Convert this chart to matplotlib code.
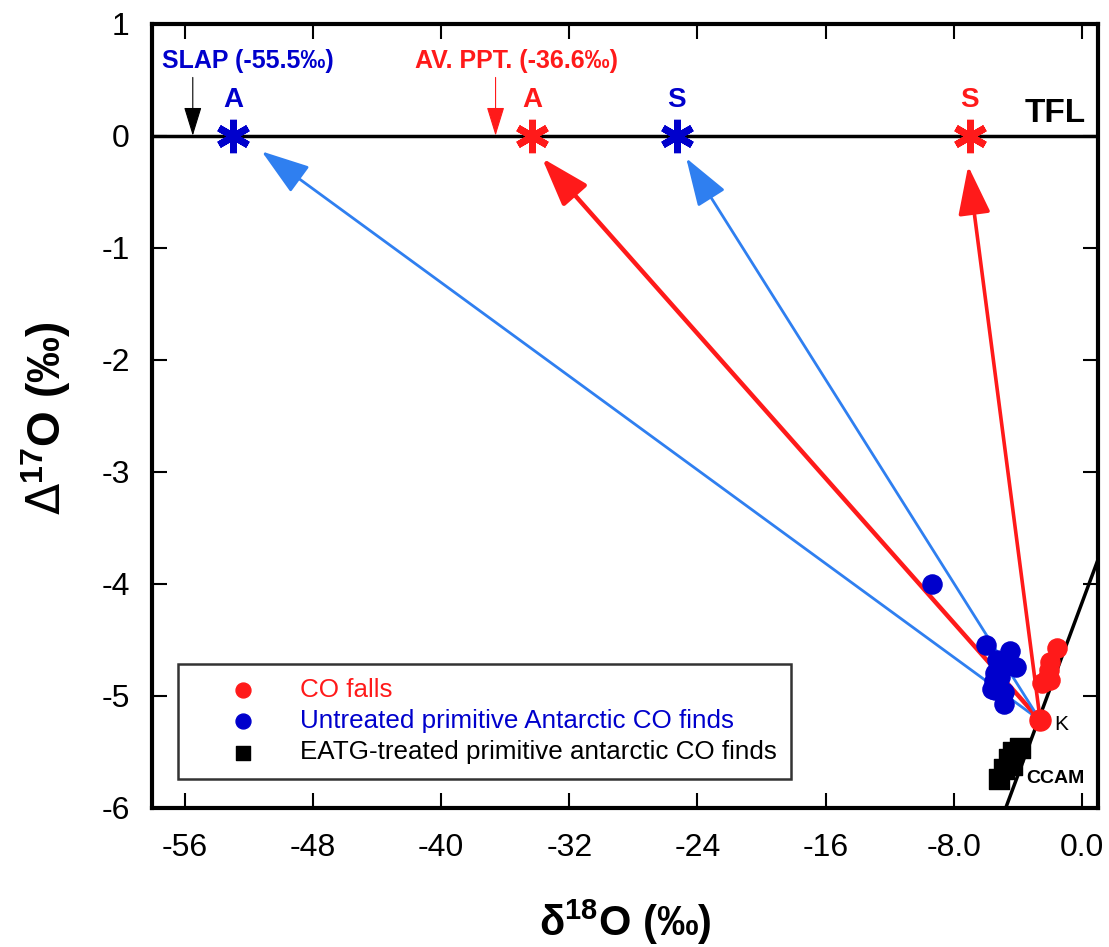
import matplotlib
matplotlib.use("Agg")
import matplotlib.pyplot as plt

plt.rcParams['font.family'] = ['Liberation Sans', 'DejaVu Sans']

# CO falls (red circles)
falls_x = [-1.57, -1.99, -2.03, -2.19, -2.50, -1.99]
falls_y = [-4.57, -4.70, -4.77, -4.85, -4.89, -4.86]

# Kainsaz (K)
k_x, k_y = -2.6, -5.22

# untreated primitive Antarctic CO finds (blue circles)
finds_x = [-9.34, -5.96, -4.47, -5.30, -4.10, -4.89, -5.40, -5.09, -5.51, -5.40, -4.89, -4.84, -5.61]
finds_y = [-4.00, -4.55, -4.60, -4.68, -4.74, -4.74, -4.80, -4.83, -4.87, -4.95, -4.97, -5.07, -4.94]

# EATG-treated finds (black squares)
eatg_x = [-3.85, -4.27, -4.58, -4.37, -4.89, -5.20]
eatg_y = [-5.47, -5.50, -5.56, -5.62, -5.65, -5.74]

# end members on TFL and arrow tips
end_labels = ['A', 'A', 'S', 'S']
end_x = [-53.0, -34.3, -25.3, -7.0]
end_colors = ['#0000cc', '#ff1a1a', '#0000cc', '#ff1a1a']
tip_x = [-51.2, -33.7, -24.7, -7.1]
tip_y = [-0.14, -0.20, -0.20, -0.27]
arrow_colors = ['#2f7ff0', '#ff1a1a', '#2f7ff0', '#ff1a1a']
arrow_widths = [2.0, 3.2, 2.0, 2.6]

# CCAM line end points
ccam_x = [-4.75, 1.2]
ccam_y = [-6.0, -3.71]

slap = -55.5
av_ppt = -36.6

fig = plt.figure(figsize=(11.09, 9.47), dpi=100)
ax = fig.add_axes([0.137, 0.147, 0.853, 0.828])

ax.axhline(0, color='black', lw=2.5, zorder=2)
ax.plot(ccam_x, ccam_y, color='black', lw=2.5, zorder=2)

for tx, ty, c, w in zip(tip_x, tip_y, arrow_colors, arrow_widths):
    ax.annotate('', xy=(tx, ty), xytext=(k_x, k_y),
                arrowprops=dict(arrowstyle='-|>,head_length=1.5,head_width=0.5',
                                color=c, lw=w, shrinkA=0, shrinkB=0,
                                mutation_scale=20), zorder=3)

ax.scatter(finds_x, finds_y, s=190, color='#0000cc', zorder=4)
ax.scatter(falls_x, falls_y, s=190, color='#ff1a1a', zorder=4)
ax.scatter([k_x], [k_y], s=230, color='#ff1a1a', zorder=5)
ax.scatter(eatg_x, eatg_y, s=190, marker='s', color='black', zorder=4)

for lab, x, c in zip(end_labels, end_x, end_colors):
    ax.plot(x, 0, marker=(6, 2, 0), ms=24, mew=5.0, color=c, zorder=6)
    ax.text(x, 0.2, lab, color=c, fontsize=20, fontweight='bold',
            ha='center', va='bottom')

ax.text(k_x + 0.9, k_y - 0.04, 'K', fontsize=15, va='center', ha='left')
ax.text(-3.5, -5.74, 'CCAM', fontsize=14, fontweight='bold', va='center', ha='left')
ax.text(-3.6, 0.06, 'TFL', fontsize=24, fontweight='bold', va='bottom', ha='left')

ax.text(-57.4, 0.67, 'SLAP (-55.5‰)', color='#0000cc', fontsize=18,
        fontweight='bold', va='center', ha='left')
ax.text(-41.6, 0.67, 'AV. PPT. (-36.6‰)', color='#ff1a1a', fontsize=18,
        fontweight='bold', va='center', ha='left')
ax.annotate('', xy=(slap, 0.0), xytext=(slap, 0.52),
            arrowprops=dict(arrowstyle='-|>,head_length=1.3,head_width=0.4',
                            color='black', lw=0.8, shrinkA=0, shrinkB=0,
                            mutation_scale=14))
ax.annotate('', xy=(av_ppt, 0.0), xytext=(av_ppt, 0.52),
            arrowprops=dict(arrowstyle='-|>,head_length=1.3,head_width=0.4',
                            color='#ff1a1a', lw=0.8, shrinkA=0, shrinkB=0,
                            mutation_scale=14))

# legend
h1 = ax.scatter([], [], s=115, color='#ff1a1a')
h2 = ax.scatter([], [], s=115, color='#0000cc')
h3 = ax.scatter([], [], s=95, marker='s', color='black')
leg = ax.legend([h1, h2, h3],
                ['CO falls', 'Untreated primitive Antarctic CO finds',
                 'EATG-treated primitive antarctic CO finds'],
                loc='lower left', bbox_to_anchor=(0.0275, 0.037), fontsize=18.7,
                frameon=True, fancybox=False, edgecolor='black',
                borderpad=0.55, handletextpad=0.25, labelspacing=0.28,
                borderaxespad=0, handlelength=3.9)
leg.get_frame().set_linewidth(1.8)
for t, c in zip(leg.get_texts(), ['#ff1a1a', '#0000cc', 'black']):
    t.set_color(c)

ax.set_xlim(-58.05, 1.0)
ax.set_ylim(-6, 1)
ax.set_xticks([-56, -48, -40, -32, -24, -16, -8, 0])
ax.set_xticklabels(['-56', '-48', '-40', '-32', '-24', '-16', '-8.0', '0.0'])
ax.set_yticks(range(-6, 2))
ax.set_yticklabels([str(v) for v in range(-6, 2)])
ax.tick_params(direction='in', length=11, width=1.5, top=True, right=True,
               labelsize=23)
ax.tick_params(axis='x', pad=18)
ax.tick_params(axis='y', pad=16)
for s in ax.spines.values():
    s.set_linewidth(3)

fig.text(0.564, 0.026, 'δ$^{\\mathregular{18}}$O (‰)', fontsize=30,
         fontweight='bold', ha='center', va='center')
fig.text(0.0415, 0.558, '$\\Delta^{\\mathregular{17}}$O (‰)', fontsize=33,
         fontweight='bold', rotation=90, ha='center', va='center')

fig.savefig('out.png', dpi=100)
